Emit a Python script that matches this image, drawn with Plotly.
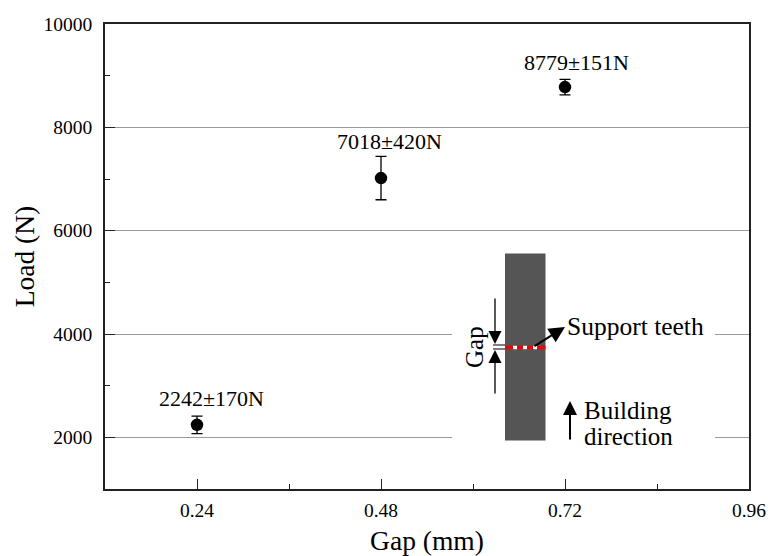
import plotly.graph_objects as go

gap = [0.24, 0.48, 0.72]
load = [2242, 7018, 8779]
err = [170, 420, 151]
labels = ["2242±170N", "7018±420N", "8779±151N"]
x_ticks = [0.24, 0.48, 0.72, 0.96]
y_ticks = [2000, 4000, 6000, 8000, 10000]
x_minor = [0.36, 0.60, 0.84]
y_minor = [3000, 5000, 7000, 9000]

W, H = 771, 556
L, R, T, B = 105, 749, 24, 489
FONT = "Liberation Serif"
LABEL_SHIFTS = [(14, 26), (8, 37), (11, 25)]

def fx(p): return (p - L) / (R - L)
def fy(p): return (B - p) / (B - T)

fig = go.Figure()
fig.add_trace(go.Scatter(
    x=gap, y=load, mode="markers",
    marker=dict(color="black", size=12.5),
    error_y=dict(type="data", array=err, visible=True, color="black", thickness=1.3, width=5.5),
    cliponaxis=False, showlegend=False,
))

def rect(x0, y0, x1, y1, color):
    return dict(type="rect", xref="paper", yref="paper", x0=fx(x0), x1=fx(x1), y0=fy(y0), y1=fy(y1),
                fillcolor=color, line=dict(width=0), layer="above")

def hline(x0, x1, y, width=1, color="black"):
    return dict(type="line", xref="paper", yref="paper", x0=fx(x0), x1=fx(x1), y0=fy(y), y1=fy(y),
                line=dict(color=color, width=width), layer="above")

shapes = [rect(452, 300, 715, 445, "white"), rect(505, 253.5, 545.5, 440.5, "#555555"),
          hline(505, 545.5, 347.5, 3.5, "#f00000"), hline(493, 505, 345), hline(493, 505, 349)]
for a, b in [(513, 517), (523, 527), (533, 537)]:
    shapes.append(hline(a, b, 347.5, 3.5, "white"))

fig.update_layout(shapes=shapes)

anns = []
def text(px, py, s, size, angle=0, xanchor="center"):
    anns.append(dict(x=fx(px), y=fy(py), xref="paper", yref="paper", text=s, showarrow=False,
                     font=dict(family=FONT, size=size, color="black"), textangle=angle,
                     xanchor=xanchor, yanchor="middle"))
def arrow(x0, y0, x1, y1, w=1.3, size=1.0):
    anns.append(dict(x=fx(x1), y=fy(y1), xref="paper", yref="paper", ax=x0 - x1, ay=y0 - y1,
                     axref="pixel", ayref="pixel", text="", showarrow=True, arrowhead=2,
                     arrowsize=size, arrowwidth=w, arrowcolor="black"))

for xv, yv, s, (dx, dy) in zip(gap, load, labels, LABEL_SHIFTS):
    anns.append(dict(x=xv, y=yv, xref="x", yref="y", text=s, showarrow=False, xshift=dx, yshift=dy,
                     yanchor="middle", font=dict(family=FONT, size=22, color="black")))
text(474, 347, "Gap", 25, -90)
text(564.5, 326, "Support teeth", 25.5, xanchor="left")
text(582, 410, "Building", 25, xanchor="left")
text(582, 436, "direction", 25, xanchor="left")
arrow(495, 297, 495, 344, 1.3, 2)
arrow(495, 395, 495, 350, 1.3, 2)
arrow(533, 347, 565, 327, 2, 1.6)
arrow(570, 441, 570, 401, 2, 1.4)

fig.update_layout(annotations=anns)
fig.update_layout(
    template=None,
    width=W, height=H, paper_bgcolor="white", plot_bgcolor="white",
    margin=dict(l=L, r=W - R, t=T, b=H - B, pad=0),
    font=dict(family=FONT, color="black"),
    xaxis=dict(range=[0.12, 0.96], tickvals=x_ticks, ticktext=[f"{v:.2f}" for v in x_ticks], automargin=False,
               ticks="inside", ticklen=10, tickwidth=1.3, tickcolor="#222222",
               showline=True, linecolor="#222222", linewidth=1.5, mirror=True, showgrid=False, zeroline=False,
               ticklabelstandoff=3,
               tickfont=dict(size=19.5), title=dict(text="Gap (mm)", font=dict(size=27.5)),
               minor=dict(tickvals=x_minor, ticks="inside", ticklen=5, tickwidth=1.3, tickcolor="#222222", showgrid=False)),
    yaxis=dict(range=[1000, 10000], tickvals=y_ticks, tickformat="d", ticks="inside", ticklen=10, tickwidth=1.3,
               automargin=True,
               tickcolor="#222222", showline=True, linecolor="#222222", linewidth=1.5, mirror=True, showgrid=True,
               gridcolor="#999999", gridwidth=1, zeroline=False, ticklabelstandoff=7,
               tickfont=dict(size=19.5), title=dict(text="Load (N)", font=dict(size=27.5), standoff=1),
               minor=dict(tickvals=y_minor, ticks="inside", ticklen=5, tickwidth=1.3, tickcolor="#222222", showgrid=False)),
)
fig.write_html("out.html", post_script="document.body.style.margin='0';", config={"displayModeBar": False})
